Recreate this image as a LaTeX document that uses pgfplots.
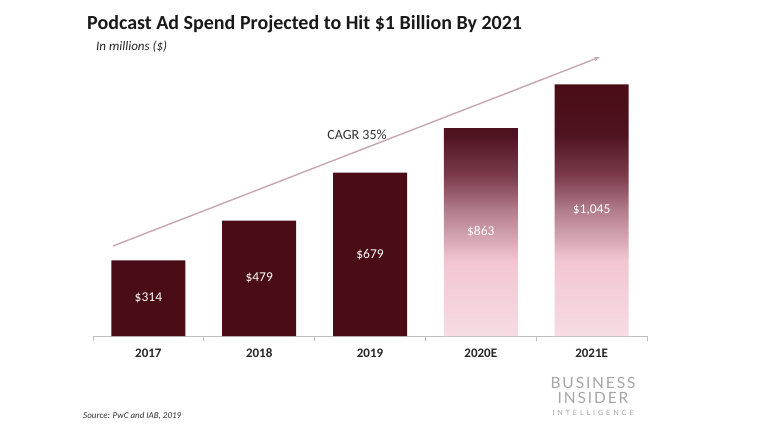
\documentclass[border=0pt]{standalone}
\usepackage{pgfplots}
\pgfplotsset{compat=1.18}
\usetikzlibrary{arrows.meta}
\usepackage{fontspec}
\setmainfont{Carlito}
\newfontfamily\bifont[LetterSpace=12]{Lato}
\newfontfamily\bifontsmall[LetterSpace=40]{Lato}
\definecolor{barmaroon}{HTML}{4A0D16}
\definecolor{pinkL}{HTML}{F6DCE3}
\definecolor{pinkM}{HTML}{F2C6D1}
\definecolor{mauve}{HTML}{B27D8B}
\definecolor{plum}{HTML}{7A3A4A}
\definecolor{deep}{HTML}{4E1320}
\definecolor{arrowc}{HTML}{C9A7B0}
\definecolor{axisgray}{HTML}{BFBFBF}
\definecolor{logogray}{HTML}{A6A6A6}
\pgfdeclareverticalshading{barfade}{100bp}{%
  color(0bp)=(pinkL); color(25bp)=(pinkL); color(40bp)=(pinkM);
  color(50bp)=(mauve); color(57bp)=(plum); color(65bp)=(deep);
  color(75bp)=(barmaroon); color(100bp)=(barmaroon)}
\begin{document}
\begin{tikzpicture}[x=1bp,y=1bp]
\fill[white] (0,0) rectangle (760,-427);
\begin{axis}[
  at={(93bp,-336bp)}, anchor=south west,
  scale only axis, width=554bp, height=280bp,
  xmin=-0.5, xmax=4.5, ymin=0, ymax=1163,
  axis x line*=bottom, hide y axis,
  x axis line style={draw=axisgray, line width=0.8bp},
  xtick={0,1,2,3,4},
  xticklabels={2017,2018,2019,2020E,2021E},
  major tick length=0pt,
  minor xtick={-0.5,0.5,1.5,2.5,3.5,4.5},
  minor tick length=5bp,
  tick align=outside,
  minor tick style={draw=axisgray, line width=0.8bp},
  xticklabel style={font=\bfseries\fontsize{13bp}{15bp}\selectfont, text=black!85, anchor=base, yshift=-21bp},
  clip=false,
]
\addplot[ybar, bar width=74bp, bar shift=0pt, fill=barmaroon, draw=none]
  coordinates {(0,314) (1,479) (2,679)};
\addplot[ybar, bar width=74bp, bar shift=0pt, shading=barfade, draw=none]
  coordinates {(3,863) (4,1045)};
\begin{scope}[every node/.style={text=white, font=\fontsize{13.5bp}{15bp}\selectfont, anchor=center}]
\node at (axis cs:0,157) {\$314};
\node at (axis cs:1,239.5) {\$479};
\node at (axis cs:2,339.5) {\$679};
\node at (axis cs:3,431.5) {\$863};
\node at (axis cs:4,522.5) {\$1,045};
\end{scope}
\end{axis}
\draw[-{Stealth[length=6bp,width=4bp]}, color=arrowc, line width=1.4bp] (113,-246) -- (600,-57);
\node[anchor=center, text=black!80, font=\fontsize{14bp}{16bp}\selectfont] at (357,-135) {CAGR 35\%};
\node[anchor=base west, inner sep=0pt, font=\bfseries\fontsize{20bp}{24bp}\selectfont, text=black!90] at (87,-29) {Podcast Ad Spend Projected to Hit \$1 Billion By 2021};
\node[anchor=base west, inner sep=0pt, font=\itshape\fontsize{13bp}{15bp}\selectfont, text=black!85] at (96,-50) {In millions (\$)};
\node[anchor=base west, inner sep=0pt, font=\itshape\fontsize{9bp}{11bp}\selectfont, text=black!80] at (83,-418) {Source: PwC and IAB, 2019};
\node[anchor=base, inner sep=0pt, text=logogray, font=\bifont\fontsize{15.5bp}{17bp}\selectfont] at (593,-388) {BUSINESS};
\node[anchor=base, inner sep=0pt, text=logogray, font=\bifont\fontsize{15.5bp}{17bp}\selectfont] at (593,-403) {INSIDER};
\node[anchor=base, inner sep=0pt, text=logogray, font=\bifontsmall\fontsize{7.2bp}{9bp}\selectfont] at (593,-415.5) {INTELLIGENCE};
\end{tikzpicture}
\end{document}
